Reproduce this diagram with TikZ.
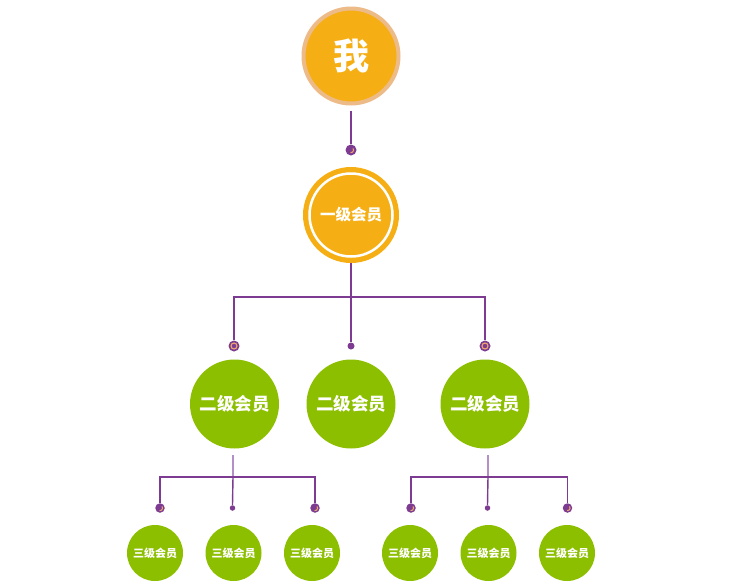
\documentclass[tikz,border=0pt]{standalone}
\usepackage{fontspec}
\newfontfamily\cjk{Noto Sans CJK SC}
\definecolor{morange}{HTML}{F5AF15}
\definecolor{mring}{HTML}{EDBB88}
\definecolor{mgreen}{HTML}{8CBF00}
\definecolor{mpurple}{HTML}{7D3C92}
\definecolor{mlpurple}{HTML}{B590C8}
\definecolor{marc}{HTML}{F0A868}
\tikzset{
  me/.style={circle, fill=morange, draw=mring, line width=4pt, minimum size=95pt, inner sep=0pt,
     text=white, font=\cjk\bfseries\fontsize{36}{36}\selectfont},
  lvone/.style={circle, fill=morange, minimum size=96pt, inner sep=0pt,
     text=white, font=\cjk\bfseries\fontsize{15.5}{16}\selectfont},
  lvtwo/.style={circle, fill=mgreen, minimum size=89pt, inner sep=0pt,
     text=white, font=\cjk\bfseries\fontsize{17.5}{18}\selectfont},
  lvthree/.style={circle, fill=mgreen, minimum size=56pt, inner sep=0pt,
     text=white, font=\cjk\bfseries\fontsize{11}{12}\selectfont},
  bigdot/.style={circle, fill=mpurple, minimum size=11pt, inner sep=0pt},
  meddot/.style={circle, fill=mpurple, minimum size=9.5pt, inner sep=0pt},
  smalldot/.style={circle, fill=mpurple, minimum size=7pt, inner sep=0pt},
  tinydot/.style={circle, fill=mpurple, minimum size=5.5pt, inner sep=0pt},
  linkA/.style={draw=mpurple, line width=2pt},
  linkB/.style={draw=mpurple, line width=1.4pt},
  linkL/.style={draw=mlpurple, line width=1.4pt},
}
\begin{document}
\begin{tikzpicture}[x=1pt,y=-1pt]
\useasboundingbox (0,0) rectangle (750,587);
% nodes
\node[me] (me) at (351,56) {我};
\node[lvone] (l1) at (351,215) {一级会员};
\draw[white, line width=2.5pt] (l1.center) circle (41.5);
\node[lvtwo] (l2a) at (234.5,404) {二级会员};
\node[lvtwo] (l2b) at (351,404) {二级会员};
\node[lvtwo] (l2c) at (485,404) {二级会员};
\node[lvthree] (l3a) at (155,553) {三级会员};
\node[lvthree] (l3b) at (233.5,553) {三级会员};
\node[lvthree] (l3c) at (312,553) {三级会员};
\node[lvthree] (l3d) at (410,553) {三级会员};
\node[lvthree] (l3e) at (488.5,553) {三级会员};
\node[lvthree] (l3f) at (567,553) {三级会员};
% dots
\node[bigdot] (d1) at (351,150) {};
\node[bigdot] (d2a) at (234,346) {};
\node[smalldot] (d2b) at (351,346) {};
\node[bigdot] (d2c) at (485,346) {};
\node[meddot] (d3a) at (160,508) {};
\node[tinydot] (d3b) at (232.5,508) {};
\node[meddot] (d3c) at (315,508) {};
\node[meddot] (d3d) at (411,508) {};
\node[tinydot] (d3e) at (487.5,508) {};
\node[meddot] (d3f) at (567.5,508) {};
% inner arcs
\foreach \n in {d2a,d2c}
  \draw[marc, line width=1.1pt] (\n.center) circle (3);
\foreach \n in {d1,d3a,d3c,d3d,d3f}
  \draw[marc, line width=1pt] ([shift={(100:2.6)}]\n.center) arc (100:-40:2.6);
% junctions
\coordinate (j1) at (351,297);
\coordinate (s2) at (233,455);
\coordinate (j2) at (233,477);
\coordinate (s3) at (488,455);
\coordinate (j3) at (488,477);
% connectors
\draw[linkA, shorten <=5pt] (me.south) -- (d1.north);
\draw[linkA] (l1.south) -- (j1);
\draw[linkA] (d2a.north) |- (j1) -| (d2c.north);
\draw[linkA] (j1) -- (d2b.north);
\draw[linkL] (s2) -- (j2);
\draw[linkB] (d3a.north) |- (j2) -| (d3c.north);
\draw[linkB] (j2) -- (d3b.north);
\draw[linkL] (s3) -- (j3);
\draw[linkB] (d3d.north) |- (j3) -| (d3f.north);
\draw[linkB] (j3) -- (d3e.north);
\end{tikzpicture}
\end{document}
